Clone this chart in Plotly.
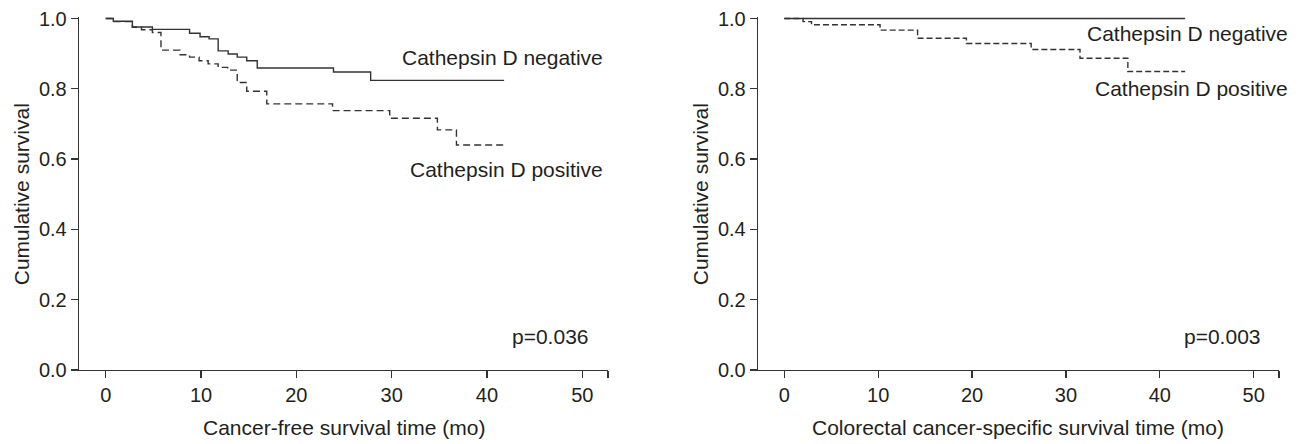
import plotly.graph_objects as go

# ---------------- data ----------------
# Left panel: cancer-free survival (Kaplan-Meier steps)
cfs_neg_time = [0, 0.8, 2.8, 4.9, 8.8, 9.9, 10.85, 11.8, 12.85, 13.8, 14.8, 15.9, 23.9, 27.8, 41.8]
cfs_neg_surv = [1.0, 0.992, 0.976, 0.969, 0.958, 0.948, 0.942, 0.908, 0.899, 0.890, 0.880, 0.859, 0.848, 0.824, 0.824]

cfs_pos_time = [0, 0.8, 2.8, 3.75, 4.9, 5.8, 7.8, 8.8, 9.8, 10.75, 11.8, 12.8, 13.8, 14.8, 16.9, 23.8, 29.8, 34.8, 36.8, 41.8]
cfs_pos_surv = [1.0, 0.991, 0.975, 0.968, 0.960, 0.910, 0.897, 0.890, 0.880, 0.871, 0.861, 0.853, 0.818, 0.793, 0.757, 0.738, 0.716, 0.683, 0.640, 0.640]

# Right panel: colorectal cancer-specific survival
css_neg_time = [0, 42.7]
css_neg_surv = [1.0, 1.0]

css_pos_time = [0, 2.0, 2.9, 10.2, 14.2, 19.4, 26.3, 31.5, 36.6, 42.7]
css_pos_surv = [1.0, 0.991, 0.982, 0.967, 0.944, 0.929, 0.912, 0.887, 0.849, 0.849]

x_tick_vals = [0, 10, 20, 30, 40, 50, 52.7]
x_tick_text = ["0", "10", "20", "30", "40", "50", ""]
y_tick_vals = [0.0, 0.2, 0.4, 0.6, 0.8, 1.0]
y_tick_text = ["0.0", "0.2", "0.4", "0.6", "0.8", "1.0"]

label_neg = "Cathepsin D negative"
label_pos = "Cathepsin D positive"
p_left = "p=0.036"
p_right = "p=0.003"
xtitle_left = "Cancer-free survival time (mo)"
xtitle_right = "Colorectal cancer-specific survival time (mo)"
ytitle = "Cumulative survival"

# ---------------- style ----------------
PAGE_W, PAGE_H = 1303, 444
OFF = 8                      # default body margin of the html page
W, H = PAGE_W - OFF, PAGE_H - OFF
FONT = "Liberation Sans, Arial, Helvetica, sans-serif"
TXT = "#231f20"
LINE = "#333333"

def px(xp):   # page x pixel -> paper fraction
    return (xp - OFF) / W

def py(yp):   # page y pixel -> paper fraction
    return (PAGE_H - yp) / H

fig = go.Figure()

fig.add_trace(go.Scatter(x=cfs_neg_time, y=cfs_neg_surv, mode="lines", line_shape="hv",
                         line=dict(color=LINE, width=1.4), xaxis="x", yaxis="y",
                         name=label_neg, showlegend=False, hoverinfo="skip"))
fig.add_trace(go.Scatter(x=cfs_pos_time, y=cfs_pos_surv, mode="lines", line_shape="hv",
                         line=dict(color=LINE, width=1.4, dash="7px,4px"), xaxis="x", yaxis="y",
                         name=label_pos, showlegend=False, hoverinfo="skip"))
fig.add_trace(go.Scatter(x=css_neg_time, y=css_neg_surv, mode="lines", line_shape="hv",
                         line=dict(color=LINE, width=1.4), xaxis="x2", yaxis="y2",
                         name=label_neg, showlegend=False, hoverinfo="skip"))
fig.add_trace(go.Scatter(x=css_pos_time, y=css_pos_surv, mode="lines", line_shape="hv",
                         line=dict(color=LINE, width=1.4, dash="6px,3px"), xaxis="x2", yaxis="y2",
                         name=label_pos, showlegend=False, hoverinfo="skip"))

xdom_left = [px(79), px(608)]
xdom_right = [px(758), px(1279)]
YTOP = 1.005
ydom = [py(370), py(18.5 - 0.005 * 351.5)]

common_x = dict(range=[-2.8, 52.7], showline=True, linecolor=LINE, linewidth=1.3,
                ticks="outside", ticklen=7, tickwidth=1.3, tickcolor=LINE,
                tickvals=x_tick_vals, ticktext=x_tick_text, showgrid=False, zeroline=False,
                tickfont=dict(family=FONT, size=20, color=TXT), fixedrange=True,
                automargin=False, ticklabeloverflow="allow")
common_y = dict(range=[0, YTOP], showline=True, linecolor=LINE, linewidth=1.3,
                ticks="outside", ticklen=7, tickwidth=1.3, tickcolor=LINE,
                tickvals=y_tick_vals, ticktext=y_tick_text, showgrid=False, zeroline=False,
                tickfont=dict(family=FONT, size=20, color=TXT), fixedrange=True,
                automargin=False, ticklabeloverflow="allow")

fig.update_layout(
    width=W, height=H,
    margin=dict(l=0, r=0, t=0, b=0, pad=0, autoexpand=False),
    paper_bgcolor="white", plot_bgcolor="white",
    font=dict(family=FONT, color=TXT, size=20),
    xaxis=dict(domain=xdom_left, anchor="y", **common_x),
    yaxis=dict(domain=ydom, anchor="x", **common_y),
    xaxis2=dict(domain=xdom_right, anchor="y2", **common_x),
    yaxis2=dict(domain=ydom, anchor="x2", **common_y),
    hovermode=False,
)

ann = []
def add_text(text, x, y, xref, yref, xanchor="right", angle=0, size=21):
    ann.append(dict(text=text, x=x, y=y, xref=xref, yref=yref, xanchor=xanchor,
                    yanchor="middle", showarrow=False, textangle=angle,
                    font=dict(family=FONT, size=size, color=TXT)))

add_text(label_neg, 52.4, 0.89, "x", "y")
add_text(label_pos, 52.4, 0.569, "x", "y")
add_text(p_left, 50.9, 0.094, "x", "y")
add_text(label_neg, px(1290), 0.956, "paper", "y2")
add_text(label_pos, px(1290), 0.802, "paper", "y2")
add_text(p_right, 51.0, 0.094, "x2", "y2")

ymid = py((18.5 + 370) / 2)
add_text(ytitle, px(21), ymid, "paper", "paper", xanchor="center", angle=-90)
add_text(ytitle, px(700), ymid, "paper", "paper", xanchor="center", angle=-90)
add_text(xtitle_left, (xdom_left[0] + xdom_left[1]) / 2, py(427), "paper", "paper", xanchor="center")
add_text(xtitle_right, (xdom_right[0] + xdom_right[1]) / 2, py(427), "paper", "paper", xanchor="center")

fig.update_layout(annotations=ann)

fig.write_html("out.html", config=dict(displayModeBar=False, staticPlot=True))
